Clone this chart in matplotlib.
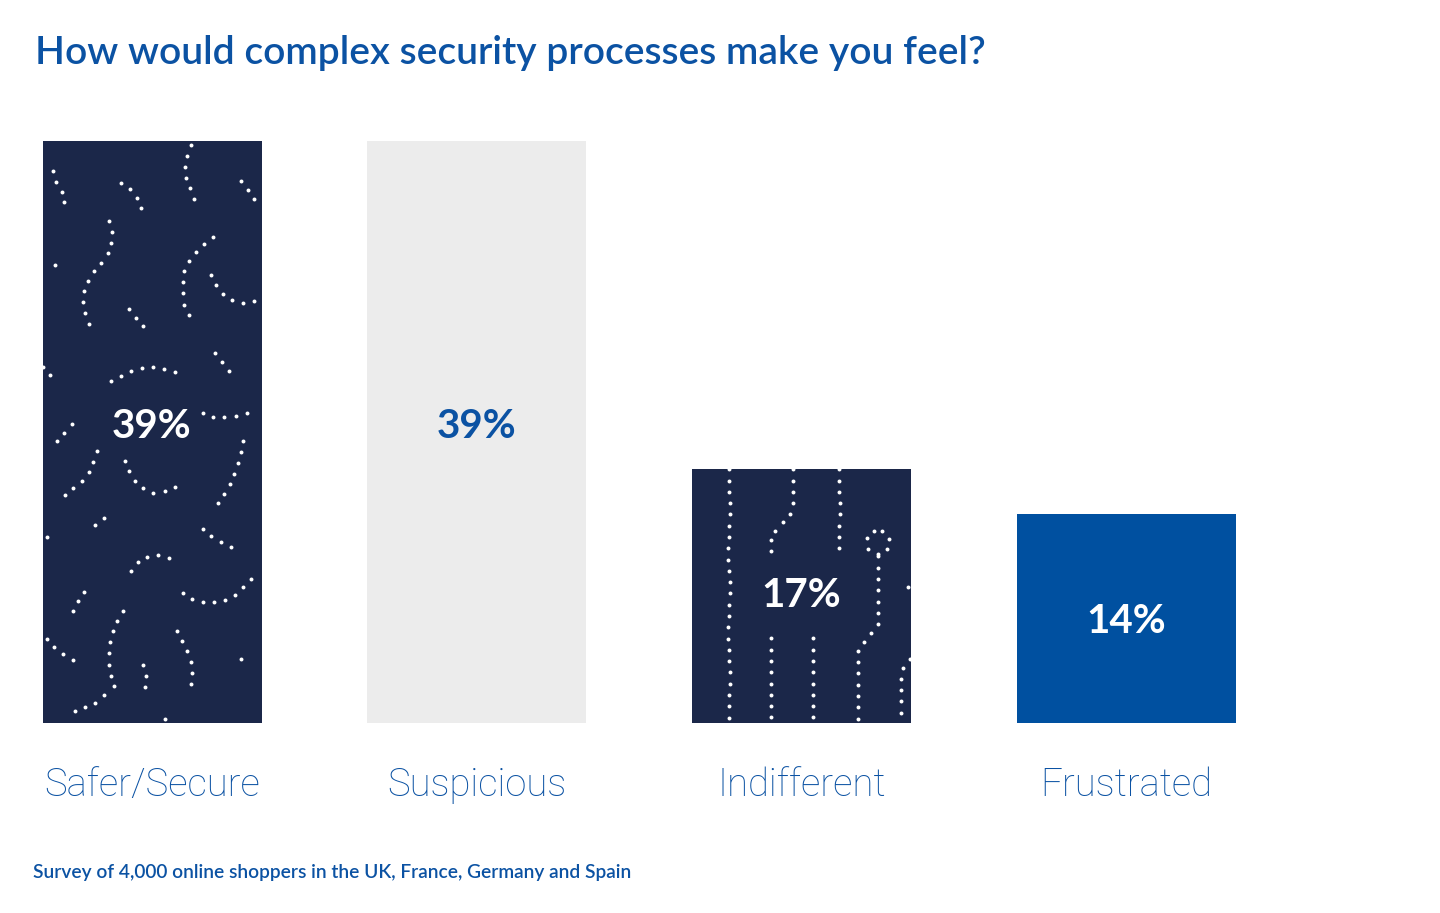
import numpy as np
import matplotlib
matplotlib.use("Agg")
import matplotlib.pyplot as plt
from matplotlib.transforms import IdentityTransform

# data
categories = ["Safer/Secure", "Suspicious", "Indifferent", "Frustrated"]
values = [39, 39, 17, 14]
value_labels = ["39%", "39%", "17%", "14%"]
title = "How would complex security processes make you feel?"
footnote = "Survey of 4,000 online shoppers in the UK, France, Germany and Spain"

NAVY = "#1b2749"
GREY = "#ececec"
BLUE = "#0050a0"
TEXT_BLUE = "#0b52a3"
bar_colors = [NAVY, GREY, NAVY, BLUE]
label_colors = ["white", TEXT_BLUE, "white", "white"]
label_nudge = [0.35, 0.35, 0.05, -0.2]  # small vertical tweak of value labels
patterned = [0, 2]

W, H = 1440, 913
fig = plt.figure(figsize=(W / 100, H / 100), dpi=100)
base_px = 723
ax = fig.add_axes([0, (H - base_px) / H, 1, base_px / H])
px_per_unit_x = 324.7
px_per_pct = 582.0 / 39
ax.set_xlim(-152.0 / px_per_unit_x, (W - 152.0) / px_per_unit_x)
ax.set_ylim(0, base_px / px_per_pct)
for s in ax.spines.values():
    s.set_visible(False)
ax.set_yticks([])

x = np.arange(len(categories))
bar_w = 219 / px_per_unit_x
bars = ax.bar(x, values, width=bar_w, color=bar_colors, zorder=1)

ax.set_xticks(x, categories)
ax.tick_params(axis="x", length=0, pad=31, labelsize=27.5, labelcolor=TEXT_BLUE)
for t in ax.get_xticklabels():
    t.set_fontfamily("Roboto")
    t.set_fontweight("light")

for i, b in enumerate(bars):
    ax.text(b.get_x() + b.get_width() / 2, values[i] / 2 + label_nudge[i],
            value_labels[i], ha="center", va="center", color=label_colors[i],
            fontsize=29, fontweight="bold", family="Lato", zorder=3)

# decorative dotted squiggles inside the dark bars (offsets in px from bar top-left)
deco = {
    0: [
        [(10, 30), (14, 42), (20, 52), (22, 64)],
        [(78, 42), (88, 48), (96, 60), (100, 70)],
        [(148, 4), (144, 16), (142, 28), (144, 40), (148, 48), (152, 60)],
        [(198, 40), (206, 50), (212, 58), (218, 66)],
        [(66, 80), (70, 94), (68, 108), (60, 120), (50, 132), (42, 146), (40, 162), (44, 178), (50, 190)],
        [(170, 96), (156, 108), (146, 120), (140, 134), (140, 150), (142, 166), (150, 180)],
        [(168, 134), (176, 148), (186, 158), (200, 162), (214, 160)],
        [(12, 124), (20, 120)],
        [(86, 168), (94, 178), (102, 186)],
        [(172, 212), (180, 222), (188, 232)],
        [(68, 240), (80, 234), (94, 228), (110, 226), (124, 228), (136, 232)],
        [(0, 226), (8, 234), (16, 240)],
        [(160, 272), (172, 276), (186, 276), (198, 274), (212, 270)],
        [(14, 300), (22, 292), (30, 282)],
        [(82, 320), (88, 334), (98, 346), (110, 352), (124, 350), (136, 344)],
        [(54, 310), (50, 324), (42, 338), (30, 348), (20, 356)],
        [(200, 300), (198, 314), (194, 328), (188, 342), (180, 356), (174, 364)],
        [(52, 384), (60, 378), (68, 372)],
        [(4, 396), (8, 402)],
        [(160, 388), (170, 396), (182, 404), (192, 408)],
        [(88, 430), (96, 420), (108, 414), (120, 414), (132, 420)],
        [(140, 452), (152, 460), (166, 462), (180, 460), (192, 454), (202, 444), (214, 432)],
        [(30, 470), (36, 458), (44, 448)],
        [(80, 470), (72, 484), (68, 498), (66, 512), (66, 526), (70, 540), (74, 552)],
        [(134, 490), (142, 504), (148, 518), (150, 532), (148, 546)],
        [(4, 498), (14, 508), (24, 516), (36, 522)],
        [(198, 518), (208, 522)],
        [(32, 570), (44, 566), (56, 560), (64, 552)],
        [(100, 524), (104, 536), (102, 548)],
        [(122, 578), (132, 580)],
    ],
    2: [
        [(37, 0), (38, 40), (36, 80), (38, 120), (36, 160), (38, 200), (37, 254)],
        [(101, 0), (101, 41), (90, 54), (79, 66), (79, 91)],
        [(147, 0), (148, 40), (147, 81)],
        [(186, 87), (186, 156), (176, 168), (166, 180), (166, 254)],
        [(79, 169), (79, 254)],
        [(121, 169), (121, 254)],
        [(218, 190), (209, 201), (209, 254)],
        [(216, 118), (217, 118)],
    ],
}
circle_bar3 = (186, 73, 12)

def resample(pts, step):
    pts = np.asarray(pts, float)
    seg = np.hypot(*np.diff(pts, axis=0).T)
    cum = np.concatenate([[0], np.cumsum(seg)])
    if cum[-1] == 0:
        return pts[:1]
    d = np.arange(0, cum[-1] + 0.1, step)
    return np.column_stack([np.interp(d, cum, pts[:, 0]), np.interp(d, cum, pts[:, 1])])

fig.canvas.draw()
for i in patterned:
    b = bars[i]
    X0, Y0 = ax.transData.transform((b.get_x(), values[i]))
    paths = list(deco[i])
    if i == 2:
        cx, cy, r = circle_bar3
        th = np.linspace(np.pi / 2 + 0.3, np.pi / 2 + 2 * np.pi - 0.3, 40)
        paths.append(list(zip(cx + r * np.cos(th), cy - r * np.sin(th))))
    for p in paths:
        dots = resample(p, 11.3)
        sc = ax.scatter(X0 + dots[:, 0], Y0 - dots[:, 1], s=8, c="white", linewidths=0,
                        transform=IdentityTransform(), zorder=2)
        sc.set_clip_path(b)

fig.text(35 / W, 1 - 64 / H, title, ha="left", va="baseline", color=TEXT_BLUE,
         fontsize=28.1, fontweight="semibold", family="Lato")
fig.text(33 / W, 1 - 878 / H, footnote, ha="left", va="baseline", color=TEXT_BLUE,
         fontsize=13.8, fontweight="semibold", family="Lato")

fig.savefig("out.png", dpi=100, facecolor="white")
